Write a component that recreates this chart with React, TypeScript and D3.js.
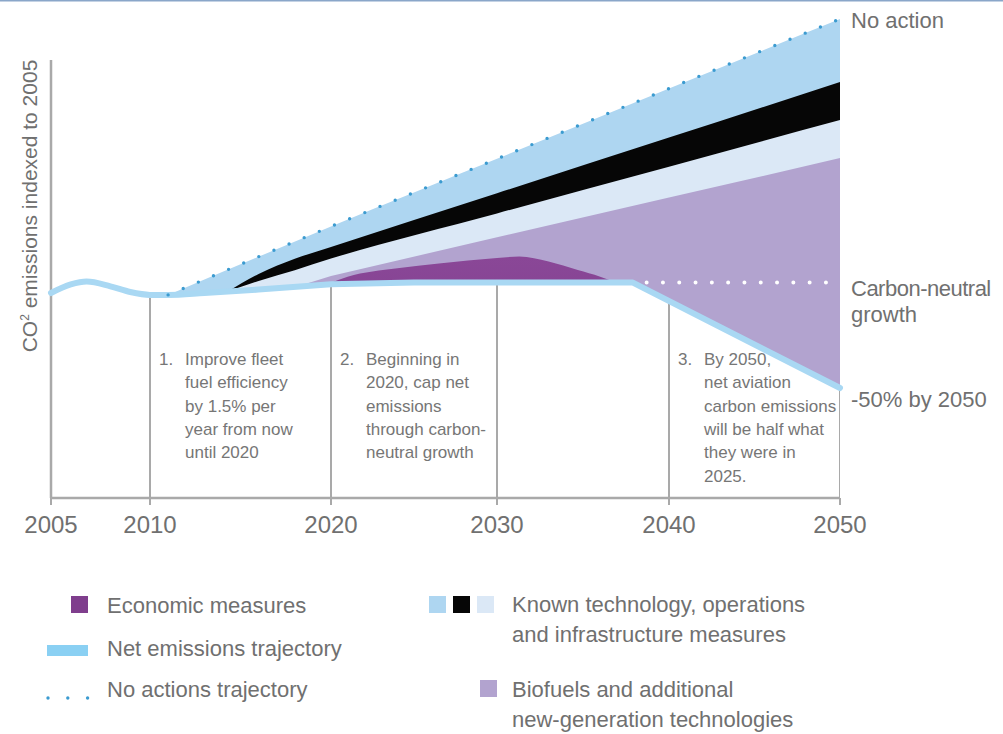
import React from 'react';
import * as d3 from 'd3';

type Pt = [number, number];

// x axis: the original chart's axis is not evenly spaced
const TICK_YEARS = [2005, 2010, 2020, 2030, 2040, 2050];
const TICK_POS = [51, 150, 331, 497, 669, 840];

// index values (2005 = 100)
// wavy historic part (smooth) and projected part (straight segments)
const netHistoric: Pt[] = [
  [2005, 100], [2006, 104.5], [2006.8, 106], [2008, 103.5], [2009, 100.5], [2010, 99],
  [2011, 99], [2013, 100], [2016, 101.8],
];
const netProjected: Pt[] = [
  [2016, 101.8], [2020, 104.6], [2025, 105.5], [2030, 105.5], [2037.9, 105.5], [2050, 50],
];
const noAction: Pt[] = [[2011, 99], [2020, 135], [2030, 170.6], [2040, 207.6], [2050, 244.2]];
const blackTop: Pt[] = [[2014.3, 100.8], [2016, 110], [2018, 118], [2020, 124.2], [2030, 152.5], [2040, 181.8], [2050, 211]];
const blackBottom: Pt[] = [[2014.3, 100.8], [2016, 106.3], [2018, 112], [2020, 118.1], [2030, 141.9], [2040, 166.5], [2050, 191]];
const biofuelTop: Pt[] = [[2018, 103], [2020, 109], [2030, 129.3], [2040, 150.2], [2050, 171]];
const economicTop: Pt[] = [
  [2019.8, 104.5], [2021, 108.5], [2024, 113], [2026.5, 115.5], [2030, 118.4], [2031.3, 119.2],
  [2033, 116.6], [2034.7, 112.1], [2036, 108.6], [2036.9, 105.5],
];
const CARBON_NEUTRAL = 105.5;
const carbonNeutralSpan = [2038.7, 2050];

const rightLabels = [
  { text: 'No action', value: 244.2, dy: 9 },
  { text: 'Carbon-neutral', value: CARBON_NEUTRAL, dy: 13 },
  { text: 'growth', value: CARBON_NEUTRAL, dy: 39 },
  { text: '-50% by 2050', value: 50, dy: 19 },
];

const notes = [
  { year: 2010, num: '1.', lines: ['Improve fleet', 'fuel efficiency', 'by 1.5% per', 'year from now', 'until 2020'] },
  { year: 2020, num: '2.', lines: ['Beginning in', '2020, cap net', 'emissions', 'through carbon-', 'neutral growth'] },
  { year: 2040, num: '3.', lines: ['By 2050,', 'net aviation', 'carbon emissions', 'will be half what', 'they were in', '2025.'] },
];

const C = {
  lightBlue: '#aed6f1',
  black: '#060606',
  pale: '#dbe8f6',
  lavender: '#b2a3cf',
  purple: '#7f3e8d',
  net: '#a9d8f3',
  dots: '#3b9bd0',
  grid: '#a9a9a9',
  text: '#707070',
};

const FONT = "'Liberation Sans', Arial, Helvetica, sans-serif";

export default function App() {
  const W = 1003, H = 734;
  const x = d3.scaleLinear().domain(TICK_YEARS).range(TICK_POS);
  const y = d3.scaleLinear().domain([0, 200]).range([483, 103]);
  const bottom = 498;
  const top = 60;

  const areaDown = (data: Pt[], curve: d3.CurveFactory = d3.curveMonotoneX) =>
    d3.area<Pt>().x(d => x(d[0])).y0(bottom).y1(d => y(d[1])).curve(curve)(data) || '';
  const lineOf = (data: Pt[], curve: d3.CurveFactory = d3.curveMonotoneX) =>
    d3.line<Pt>().x(d => x(d[0])).y(d => y(d[1])).curve(curve)(data) || '';

  const netPath =
    lineOf(netHistoric, d3.curveMonotoneX) + lineOf(netProjected, d3.curveLinear).replace(/^M/, 'L');
  const belowNet = `${netPath}L${x(2050)},${bottom + 12}L${x(2005)},${bottom + 12}Z`;

  const x2050 = x(2050);

  return (
    <svg width={W} height={H} style={{ position: 'absolute', left: 0, top: 0, background: '#fff' }} fontFamily={FONT}>
      <defs>
        <clipPath id="belowNet">
          <path d={belowNet} />
        </clipPath>
        <linearGradient id="purpleGrad" x1="0" x2="0" y1="0" y2="1">
          <stop offset="0" stopColor="#8a4797" />
          <stop offset="1" stopColor="#723683" />
        </linearGradient>
      </defs>
      <rect x={0} y={0} width={W} height={1.5} fill="#8aa6c9" />

      {/* stacked bands, painted top boundary downward */}
      <path d={areaDown(noAction)} fill={C.lightBlue} />
      <path d={areaDown(blackTop)} fill={C.black} />
      <path d={areaDown(blackBottom)} fill={C.pale} />
      <path d={areaDown(biofuelTop, d3.curveLinear)} fill={C.lavender} />
      <path d={areaDown(economicTop)} fill="url(#purpleGrad)" />
      <path d={belowNet} fill="#fff" />

      {/* grid lines below the net line */}
      <g clipPath="url(#belowNet)">
        {TICK_YEARS.slice(1).map(t => (
          <line key={t} x1={x(t)} x2={x(t)} y1={top} y2={bottom} stroke={C.grid} strokeWidth={2} />
        ))}
      </g>
      {/* axes */}
      <line x1={x(2005)} x2={x(2005)} y1={top} y2={bottom} stroke={C.grid} strokeWidth={2.5} />
      <line x1={x(2005)} x2={x2050} y1={bottom} y2={bottom} stroke={C.grid} strokeWidth={2.5} />
      {TICK_YEARS.map(t => (
        <g key={t}>
          <line x1={x(t)} x2={x(t)} y1={bottom} y2={bottom + 7} stroke={C.grid} strokeWidth={2} />
          <text x={x(t)} y={533} textAnchor="middle" fontSize={24} fill={C.text}>{t}</text>
        </g>
      ))}

      {/* net emissions trajectory */}
      <path d={netPath} fill="none" stroke={C.net} strokeWidth={6} strokeLinejoin="round" strokeLinecap="round" />
      {/* no action trajectory */}
      <path d={lineOf(noAction)} fill="none" stroke={C.dots} strokeWidth={3.4} strokeDasharray="0 16.4" strokeLinecap="round" />
      {/* carbon-neutral growth dots */}
      <line
        x1={x(carbonNeutralSpan[0])} x2={x(carbonNeutralSpan[1])}
        y1={y(CARBON_NEUTRAL)} y2={y(CARBON_NEUTRAL)}
        stroke="#ffffff" strokeWidth={4} strokeDasharray="0 16.3" strokeLinecap="round"
      />

      {/* y title */}
      <text transform={`translate(37, 206) rotate(-90)`} textAnchor="middle" fontSize={21} fill={C.text}>
        CO<tspan fontSize={12} dy={-8}>2</tspan><tspan dy={8}> emissions indexed to 2005</tspan>
      </text>

      {/* right labels */}
      {rightLabels.map(l => (
        <text key={l.text} x={x2050 + 11} y={y(l.value) + l.dy} fontSize={22} fill={C.text}
          letterSpacing={l.text === 'Carbon-neutral' ? -0.5 : 0}>
          {l.text}
        </text>
      ))}

      {/* notes */}
      {notes.map(n => (
        <g key={n.num} fontSize={17} fill="#767676">
          <text x={x(n.year) + 9} y={365}>{n.num}</text>
          {n.lines.map((ln, i) => (
            <text key={i} x={x(n.year) + 35} y={365 + i * 23.3}>{ln}</text>
          ))}
        </g>
      ))}

      {/* legend */}
      <g fontSize={22} fill={C.text}>
        <rect x={71} y={596} width={17} height={17} fill={C.purple} />
        <text x={107} y={613}>Economic measures</text>
        <rect x={47} y={645} width={41} height={11} fill="#8ad0f3" />
        <text x={107} y={656}>Net emissions trajectory</text>
        <line x1={48} x2={88} y1={698} y2={698} stroke={C.dots} strokeWidth={3.4} strokeDasharray="0 19.8" strokeLinecap="round" />
        <text x={107} y={697}>No actions trajectory</text>

        <rect x={429} y={596} width={17} height={17} fill={C.lightBlue} />
        <rect x={453} y={596} width={17} height={17} fill={C.black} />
        <rect x={477} y={596} width={17} height={17} fill={C.pale} />
        <text x={512} y={612}>Known technology, operations</text>
        <text x={512} y={642}>and infrastructure measures</text>
        <rect x={480} y={680} width={17} height={17} fill={C.lavender} />
        <text x={512} y={697}>Biofuels and additional</text>
        <text x={512} y={727}>new-generation technologies</text>
      </g>
    </svg>
  );
}
